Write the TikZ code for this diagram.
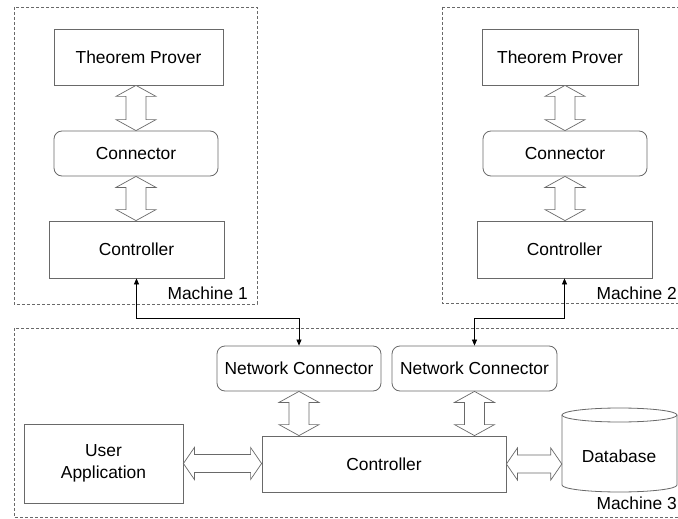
\documentclass[tikz,border=0pt]{standalone}
\usepackage{fontspec}
\setmainfont{Liberation Sans}
\usetikzlibrary{calc,arrows.meta}
\definecolor{lg}{RGB}{105,105,105}
\newcommand\fatV[2]{%
  \draw[fat] let \p1=(#1), \p2=(#2) in
    (\x1,\y1) -- (\x1+20pt,\y1-11pt) -- (\x1+10pt,\y1-11pt) -- (\x1+10pt,\y2+11pt)
    -- (\x1+20pt,\y2+11pt) -- (\x1,\y2) -- (\x1-20pt,\y2+11pt) -- (\x1-10pt,\y2+11pt)
    -- (\x1-10pt,\y1-11pt) -- (\x1-20pt,\y1-11pt) -- cycle;}
\newcommand\fatH[2]{%
  \draw[fat] let \p1=(#1), \p2=(#2) in
    (\x1,\y1) -- (\x1+11pt,\y1+16pt) -- (\x1+11pt,\y1+9pt) -- (\x2-11pt,\y1+9pt)
    -- (\x2-11pt,\y1+16pt) -- (\x2,\y1) -- (\x2-11pt,\y1-16pt) -- (\x2-11pt,\y1-9pt)
    -- (\x1+11pt,\y1-9pt) -- (\x1+11pt,\y1-16pt) -- cycle;}
\begin{document}
\begin{tikzpicture}[x=1pt,y=-1pt,font=\fontsize{17.4}{22}\selectfont,
  box/.style={draw=lg,line width=0.8pt,inner sep=0pt,align=center},
  rbox/.style={box,rounded corners=8pt},
  fat/.style={draw=lg,line width=0.7pt,fill=white,line join=miter},
  mach/.style={draw=lg,line width=0.7pt,dash pattern=on 3pt off 2pt},
  tarr/.style={draw=black,line width=0.7pt,{Triangle[length=6pt,width=5pt]}-{Triangle[length=6pt,width=5pt]}},
  lbl/.style={anchor=east,inner sep=1pt}]
\clip (0,0) rectangle (678,519);
\fill[white] (0,0) rectangle (678,519);
% machine frames
\draw[mach] (14,7) rectangle (257,304);
\draw[mach] (442,7) rectangle (700,303);
\draw[mach] (14,328) rectangle (700,517);
\node[lbl] (m1) at (249,293) {Machine 1};
\node[lbl] (m2) at (678,293) {Machine 2};
\node[lbl] (m3) at (678,503) {Machine 3};
% machine 1
\node[box,minimum width=169pt,minimum height=56pt] (tp1) at (138.5,57) {Theorem Prover};
\node[rbox,minimum width=164pt,minimum height=45pt] (cn1) at (136,153.5) {Connector};
\node[box,minimum width=175pt,minimum height=57pt] (ct1) at (136.5,249.5) {Controller};
% machine 2
\node[box,minimum width=156pt,minimum height=56pt] (tp2) at (560,57) {Theorem Prover};
\node[rbox,minimum width=164pt,minimum height=45pt] (cn2) at (565,153.5) {Connector};
\node[box,minimum width=175pt,minimum height=57pt] (ct2) at (564.5,249.5) {Controller};
% machine 3
\node[rbox,minimum width=164pt,minimum height=45pt] (nc1) at (299,368.5) {Network Connector};
\node[rbox,minimum width=165pt,minimum height=45pt] (nc2) at (474.5,368.5) {Network Connector};
\node[box,minimum width=244pt,minimum height=56pt] (ctl) at (384,464) {Controller};
\node[box,minimum width=159pt,minimum height=79pt] (ua) at (103.5,463.5) {User\\Application};
\node[inner sep=0pt,minimum width=115pt,minimum height=84pt] (db) at (619.5,450) {};
\node (dbt) at (619,456) {Database};
\draw[draw=lg,line width=0.8pt] (562,415) -- (562,485)
  arc[start angle=180,end angle=360,x radius=57.5pt,y radius=7pt] -- (677,415);
\draw[draw=lg,line width=0.8pt] (619.5,415) ellipse[x radius=57.5pt,y radius=7pt];
% fat arrows
\fatV{tp1.south -| cn1}{cn1.north}
\fatV{cn1.south}{ct1.north -| cn1}
\fatV{tp2.south -| cn2}{cn2.north}
\fatV{cn2.south}{ct2.north -| cn2}
\fatV{nc1.south}{ctl.north -| nc1}
\fatV{nc2.south}{ctl.north -| nc2}
\fatH{ua.east}{ctl.west |- ua.east}
\fatH{ctl.east}{db.west |- ctl.east}
% network links
\coordinate (j1) at (0,318);
\draw[tarr] (ct1.south) -- (ct1.south |- j1) -| (nc1.north);
\draw[tarr] (ct2.south) -- (ct2.south |- j1) -| (nc2.north);
\end{tikzpicture}
\end{document}
